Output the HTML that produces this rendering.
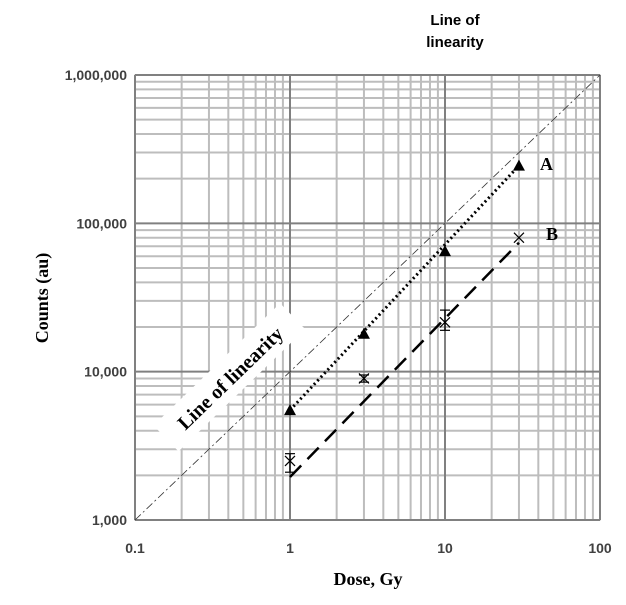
<!DOCTYPE html>
<html><head><meta charset="utf-8"><style>body{margin:0;background:#fff}svg{display:block}</style></head>
<body>
<svg id="chart" width="626" height="605" viewBox="0 0 626 605" xmlns="http://www.w3.org/2000/svg">
<g id="grid"></g>
<g id="marks"></g>
<g id="labels"></g>
</svg>
<script>
const doses = [1, 3, 10, 30];
const seriesA = [5500, 18000, 65000, 245000];
const seriesB = [2500, 9000, 21500, 80000];
const errLowB = [2100, 8500, 19000, 80000];
const errHighB = [2800, 9500, 26000, 80000];
const fitAEnds = [[1, 5500], [30, 245000]];
const fitBEnds = [[1, 1950], [30, 74000]];
const xTicks = [0.1, 1, 10, 100];
const xTickLabels = ["0.1", "1", "10", "100"];
const yTicks = [1000, 10000, 100000, 1000000];
const yTickLabels = ["1,000", "10,000", "100,000", "1,000,000"];
const linearityFactor = 10000;

const X0=135,X1=600,Y0=520,Y1=75;
const xs=d=>X0+(Math.log10(d)+1)/3*(X1-X0);
const ys=c=>Y0-(Math.log10(c)-3)/3*(Y0-Y1);
const NS="http://www.w3.org/2000/svg";
function mk(p,tag,at){const e=document.createElementNS(NS,tag);for(const k in at)e.setAttribute(k,at[k]);p.appendChild(e);return e;}
const grid=document.getElementById('grid'),marks=document.getElementById('marks'),labels=document.getElementById('labels');
mk(grid,'rect',{x:X0,y:Y1,width:X1-X0,height:Y0-Y1,fill:'#fff',stroke:'#999','stroke-width':1});
for(let e=-1;e<2;e++)for(let m=2;m<10;m++){const x=xs(m*Math.pow(10,e));const l=mk(grid,'line',{x1:x,x2:x,y1:Y1,y2:Y0,stroke:'#bdbdbd','stroke-width':2});}
for(let e=3;e<6;e++)for(let m=2;m<10;m++){const y=ys(m*Math.pow(10,e));const l=mk(grid,'line',{x1:X0,x2:X1,y1:y,y2:y,stroke:'#bdbdbd','stroke-width':2});}
xTicks.forEach((t,i)=>{const x=xs(t);const l=mk(grid,'line',{x1:x,x2:x,y1:Y1,y2:Y0,stroke:'#808080','stroke-width':2});
const tx=mk(labels,'text',{x:x,y:553,'text-anchor':'middle','font-family':'Liberation Sans, sans-serif','font-weight':'bold','font-size':14,fill:'#404040'});tx.textContent=xTickLabels[i];});
yTicks.forEach((t,i)=>{const y=ys(t);const l=mk(grid,'line',{x1:X0,x2:X1,y1:y,y2:y,stroke:'#808080','stroke-width':2});
const tx=mk(labels,'text',{x:127,y:y+5,'text-anchor':'end','font-family':'Liberation Sans, sans-serif','font-weight':'bold','font-size':14,fill:'#404040'});tx.textContent=yTickLabels[i];});
let ll=mk(marks,'line',{x1:xs(0.1),y1:ys(0.1*linearityFactor),x2:xs(100),y2:ys(100*linearityFactor),stroke:'#333','stroke-width':0.8,'stroke-dasharray':'8,3,2,3'});

let fa=mk(marks,'line',{x1:xs(fitAEnds[0][0]),y1:ys(fitAEnds[0][1]),x2:xs(fitAEnds[1][0]),y2:ys(fitAEnds[1][1]),stroke:'#000','stroke-width':3,'stroke-dasharray':'2,3'});

let fb=mk(marks,'line',{x1:xs(fitBEnds[0][0]),y1:ys(fitBEnds[0][1]),x2:xs(fitBEnds[1][0]),y2:ys(fitBEnds[1][1]),stroke:'#000','stroke-width':2.5,'stroke-dasharray':'16,9'});

doses.forEach((d,i)=>{const x=xs(d),y=ys(seriesA[i]);const p=mk(marks,'polygon',{points:`${x-6},${y+5} ${x+6},${y+5} ${x},${y-6}`,fill:'#000'});});
doses.forEach((d,i)=>{const x=xs(d),y=ys(seriesB[i]);
const g=mk(marks,'g',{stroke:'#000','stroke-width':1.2});
mk(g,'line',{x1:x-5,y1:y-5,x2:x+5,y2:y+5});mk(g,'line',{x1:x-5,y1:y+5,x2:x+5,y2:y-5});
const yl=ys(errLowB[i]),yh=ys(errHighB[i]);
if(yl-yh>1){mk(g,'line',{x1:x,y1:yh,x2:x,y2:yl});mk(g,'line',{x1:x-5,y1:yh,x2:x+5,y2:yh});mk(g,'line',{x1:x-5,y1:yl,x2:x+5,y2:yl});}});
function txt(p,s,at,name){const t=mk(p,'text',at);t.textContent=s;return t;}
const serif='Liberation Serif, serif';
txt(labels,'A',{x:540,y:170,'font-family':serif,'font-weight':'bold','font-size':18},'series-a-label');
txt(labels,'B',{x:546,y:240,'font-family':serif,'font-weight':'bold','font-size':18},'series-b-label');
txt(labels,'Dose, Gy',{x:368,y:585,'text-anchor':'middle','font-family':serif,'font-weight':'bold','font-size':18},'x-axis-title');
txt(labels,'Counts (au)',{x:0,y:0,'text-anchor':'middle','font-family':serif,'font-weight':'bold','font-size':18,transform:'translate(48,298) rotate(-90)'},'y-axis-title');
txt(labels,'Line of',{x:455,y:25,'text-anchor':'middle','font-family':'Liberation Sans, sans-serif','font-weight':'bold','font-size':15},'annotation-title-line1');
txt(labels,'linearity',{x:455,y:47,'text-anchor':'middle','font-family':'Liberation Sans, sans-serif','font-weight':'bold','font-size':15},'annotation-title-line2');
const lg=mk(labels,'g',{transform:'translate(230,378) rotate(-44)'});
mk(lg,'rect',{x:-88,y:-19,width:176,height:36,fill:'#fff'});
txt(lg,'Line of linearity',{x:0,y:7,'text-anchor':'middle','font-family':serif,'font-weight':'bold','font-size':20},'linearity-label-text');
</script>
</body></html>
